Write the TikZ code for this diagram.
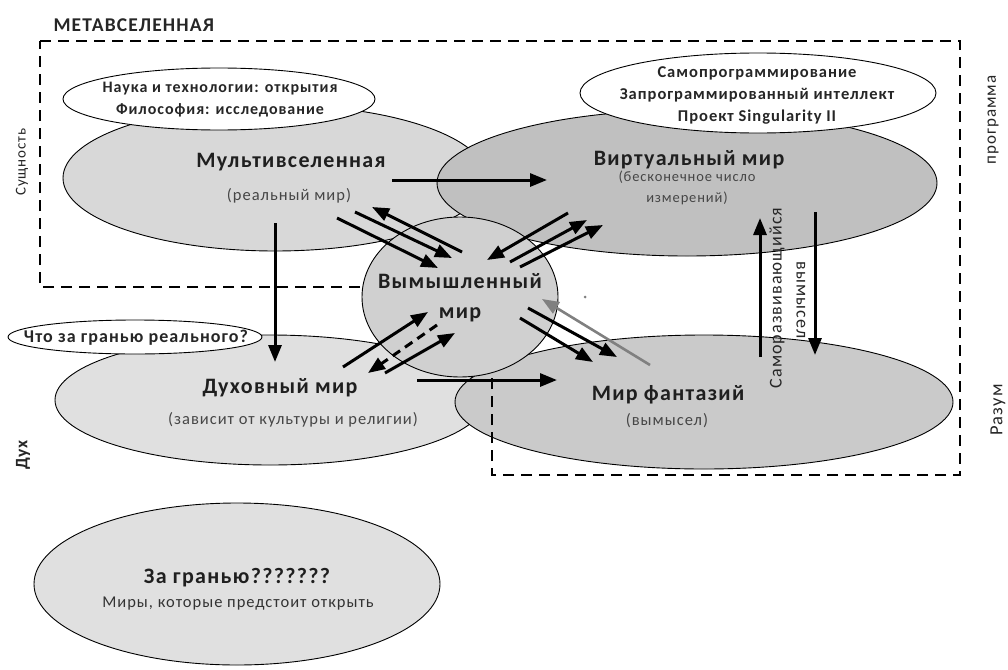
\documentclass[tikz,border=0pt]{standalone}
\usepackage{fontspec}
\setmainfont{Carlito}[LetterSpace=6]
\usetikzlibrary{shapes.geometric,arrows.meta}
\definecolor{mvfill}{RGB}{216,216,216}
\definecolor{vfill}{RGB}{192,192,192}
\definecolor{cfill}{RGB}{208,208,208}
\definecolor{ffill}{RGB}{202,202,202}
\definecolor{sfill}{RGB}{224,224,224}
\definecolor{bfill}{RGB}{224,224,224}
\definecolor{subtext}{RGB}{70,70,70}
\definecolor{grayarrow}{RGB}{128,128,128}
\tikzset{
  blob/.style={ellipse, draw=black, line width=0.9pt, inner sep=0pt},
  title/.style={font=\bfseries\fontsize{22}{26}\selectfont, text=black!88},
  sub/.style={font=\fontsize{16.5}{19}\selectfont, text=subtext},
  note/.style={font=\bfseries\fontsize{16}{22}\selectfont, align=center, text=black!85},
  side/.style={font=\fontsize{15}{18}\selectfont, text=black!85},
  arr/.style={line width=3pt, -{Triangle[length=17pt,width=13pt]}},
  boxline/.style={line width=2.6pt, dash pattern=on 11pt off 7pt},
}
\begin{document}
\begin{tikzpicture}[x=1pt,y=-1pt]
\useasboundingbox (0,0) rectangle (1008,669);
% big ellipses
\node[blob, fill=mvfill, minimum width=424, minimum height=146] (mv) at (275,178) {};
\node[blob, fill=vfill, minimum width=500, minimum height=146] (vw) at (687,183) {};
\node[blob, fill=sfill, minimum width=430, minimum height=130] (sw) at (270,400) {};
\node[blob, fill=ffill, minimum width=498, minimum height=134] (fw) at (704,402) {};
\node[blob, fill=bfill, minimum width=406, minimum height=162] (bw) at (237,584) {};
% white ellipses
\node[blob, fill=white, minimum width=312, minimum height=62] (sci) at (219,99) {};
\node[blob, fill=white, minimum width=356, minimum height=80] (prog) at (758,93) {};
\node[blob, fill=white, minimum width=254, minimum height=34] (beyond) at (135,337) {};
% dashed boundary
\coordinate (b1) at (40,41);
\coordinate (b2) at (960,41);
\coordinate (b3) at (960,475);
\coordinate (b4) at (492,475);
\coordinate (b5) at (492,287);
\coordinate (b6) at (40,287);
\draw[boxline] (b1) -- (b2) -- (b3) -- (b4) -- (b5) -- (b6) -- cycle;
% central circle
\node[blob, fill=cfill, minimum width=196, minimum height=160] (fic) at (460,297) {};
% texts
\node[anchor=west, font=\bfseries\fontsize{19.5}{22}\selectfont, text=black!85] (meta) at (50,25) {МЕТАВСЕЛЕННАЯ};
\node[note] (scit) at (220,100) {Наука и технологии: открытия\\Философия: исследование};
\node[note, font=\bfseries\fontsize{16.5}{22}\selectfont] (progt) at (757,95) {Самопрограммирование\\Запрограммированный интеллект\\Проект Singularity II};
\node[note, font=\bfseries\fontsize{18}{20}\selectfont] (beyondt) at (136,338) {Что за гранью реального?};
\node[title] (mvt) at (291,162) {Мультивселенная};
\node[sub] (mvs) at (289,196) {(реальный мир)};
\node[title] (vwt) at (689,160) {Виртуальный мир};
\node[sub, font=\fontsize{14.5}{21}\selectfont, align=center] (vws) at (687,188) {(бесконечное число\\измерений)};
\node[title, align=center, font=\bfseries\fontsize{22}{30}\selectfont] (fict) at (460,298) {Вымышленный\\мир};
\node[title] (swt) at (280,388) {Духовный мир};
\node[sub] (sws) at (293,420) {(зависит от культуры и религии)};
\node[title] (fwt) at (668,395) {Мир фантазий};
\node[sub] (fws) at (667,421) {(вымысел)};
\node[title] (bwt) at (237,578) {За гранью???????};
\node[sub, text=black!80] (bws) at (238,604) {Миры, которые предстоит открыть};
\node[side, rotate=90] (ess) at (22,162) {Сущность};
\node[side, font=\bfseries\fontsize{17.5}{20}\selectfont, rotate=90] (spir) at (23,455) {Дух};
\node[side, font=\fontsize{17}{20}\selectfont, rotate=90] (prg) at (993,120) {программа};
\node[side, font=\fontsize{18.5}{20}\selectfont, rotate=90] (mind) at (998,410) {Разум};
\node[side, font=\fontsize{18}{20}\selectfont, rotate=90] (selfdev) at (777,298) {Саморазвивающийся};
\node[side, font=\fontsize{18}{20}\selectfont, rotate=-90] (fict2) at (801,300) {вымысел};
% arrow coordinates
\coordinate (h1s) at (392,180); \coordinate (h1e) at (547,180);
\coordinate (v1s) at (275,223); \coordinate (v1e) at (275,362);
\coordinate (h2s) at (417,380); \coordinate (h2e) at (557,380);
\coordinate (ups) at (760,357); \coordinate (upe) at (760,218);
\coordinate (dns) at (815,212); \coordinate (dne) at (815,355);
\coordinate (as) at (337,218); \coordinate (ae) at (438,268);
\coordinate (bs) at (355,212); \coordinate (be) at (452,258);
\coordinate (cs) at (462,252); \coordinate (ce) at (372,207);
\coordinate (ds) at (568,213); \coordinate (de) at (487,260);
\coordinate (es) at (510,262); \coordinate (ee) at (587,220);
\coordinate (fs) at (520,267); \coordinate (fe) at (603,225);
\coordinate (gs) at (343,367); \coordinate (ge) at (428,312);
\coordinate (hs) at (437,325); \coordinate (he) at (368,373);
\coordinate (is) at (385,373); \coordinate (ie) at (455,333);
\coordinate (js) at (528,308); \coordinate (je) at (617,357);
\coordinate (ks) at (520,318); \coordinate (ke) at (593,362);
\coordinate (ls) at (650,365); \coordinate (le) at (542,299);
\coordinate (dot) at (585,297);
% arrows
\draw[arr] (h1s) -- (h1e);
\draw[arr] (v1s) -- (v1e);
\draw[arr] (h2s) -- (h2e);
\draw[arr] (ups) -- (upe);
\draw[arr] (dns) -- (dne);
\draw[arr] (as) -- (ae);
\draw[arr] (bs) -- (be);
\draw[arr] (cs) -- (ce);
\draw[arr] (ds) -- (de);
\draw[arr] (es) -- (ee);
\draw[arr] (fs) -- (fe);
\draw[arr] (gs) -- (ge);
\draw[arr, dash pattern=on 9pt off 6pt] (hs) -- (he);
\draw[arr] (is) -- (ie);
\draw[arr] (js) -- (je);
\draw[arr] (ks) -- (ke);
\draw[arr, draw=grayarrow, fill=grayarrow, line width=2.6pt] (ls) -- (le);
\fill[grayarrow] (dot) circle (1.5pt);
\end{tikzpicture}
\end{document}
